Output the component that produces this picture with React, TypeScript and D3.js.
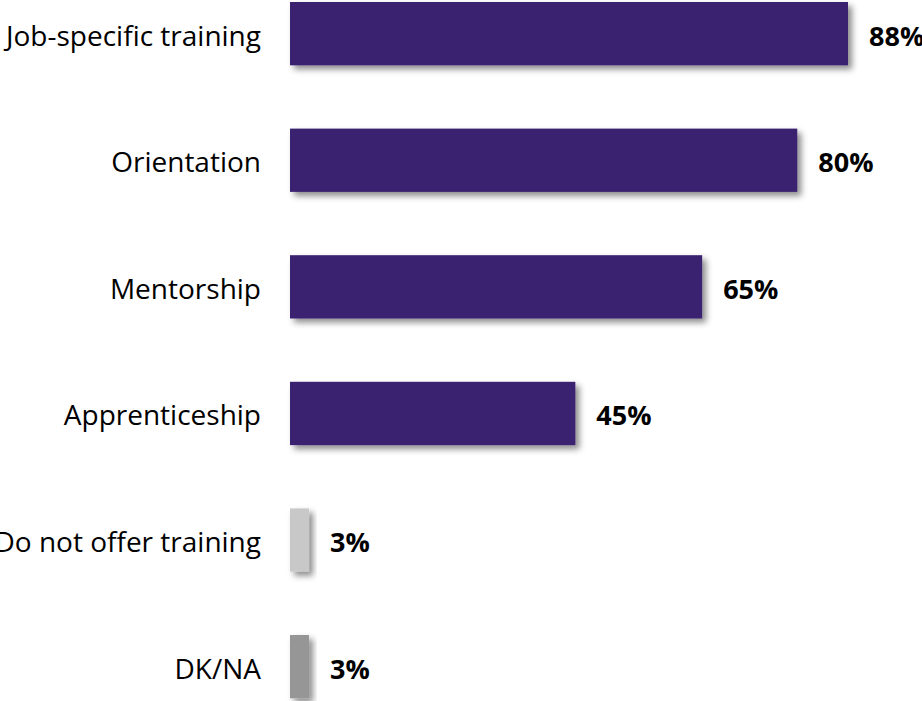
import React, { Component } from "react";
import * as d3 from "d3";

const categories = ["Job-specific training", "Orientation", "Mentorship", "Apprenticeship", "Do not offer training", "DK/NA"];
const values = [88, 80, 65, 45, 3, 3];
const barColors = ["#3b2470", "#3b2470", "#3b2470", "#3b2470", "#c8c8c8", "#969696"];

class TrainingBars extends Component {
  componentDidMount() {
    document.body.style.margin = "0";
    this.renderChart();
  }

  renderChart = () => {
    const width = 922;
    const height = 701;

    const svg = d3.select(".trainingBars")
      .attr("width", width)
      .attr("height", height);

    // drop shadow for bars
    const defs = svg.append("defs");
    defs.append("filter")
      .attr("id", "barShadow")
      .attr("x", "-20%").attr("y", "-20%")
      .attr("width", "160%").attr("height", "160%")
      .append("feDropShadow")
      .attr("dx", 4)
      .attr("dy", 4)
      .attr("stdDeviation", 3)
      .attr("flood-color", "#000")
      .attr("flood-opacity", 0.45);

    // scales
    const xScale = d3.scaleLinear().domain([0, 88]).range([290, 848]);
    const step = 126.6;
    const yScale = d3.scaleBand()
      .domain(categories)
      .range([2 - step * 0.25, 2 - step * 0.25 + step * categories.length])
      .paddingInner(0.5)
      .paddingOuter(0.25);

    const g = svg.append("g");

    // bars
    g.selectAll("rect.bar").data(values).join("rect")
      .attr("class", "bar")
      .attr("x", xScale(0))
      .attr("y", (d, i) => yScale(categories[i]))
      .attr("width", d => xScale(d) - xScale(0))
      .attr("height", yScale.bandwidth())
      .attr("fill", (d, i) => barColors[i])
      .attr("filter", "url(#barShadow)");

    // category labels
    g.selectAll("text.cat").data(categories).join("text")
      .attr("class", "cat")
      .attr("x", 261)
      .attr("y", d => yScale(d) + yScale.bandwidth() / 2 + 12)
      .attr("text-anchor", "end")
      .style("font-family", "'Open Sans', sans-serif")
      .style("font-size", "28px")
      .style("fill", "#000")
      .text(d => d);

    // value labels
    g.selectAll("text.val").data(values).join("text")
      .attr("class", "val")
      .attr("x", d => xScale(d) + 21)
      .attr("y", (d, i) => yScale(categories[i]) + yScale.bandwidth() / 2 + 12)
      .style("font-family", "'Open Sans', sans-serif")
      .style("font-weight", "bold")
      .style("font-size", "27px")
      .style("fill", "#000")
      .text(d => d + "%");
  }

  render() {
    return (
      <div>
        <svg className="trainingBars" style={{ display: "block" }}></svg>
      </div>
    );
  }
}

export default function App() {
  return <TrainingBars />;
}
